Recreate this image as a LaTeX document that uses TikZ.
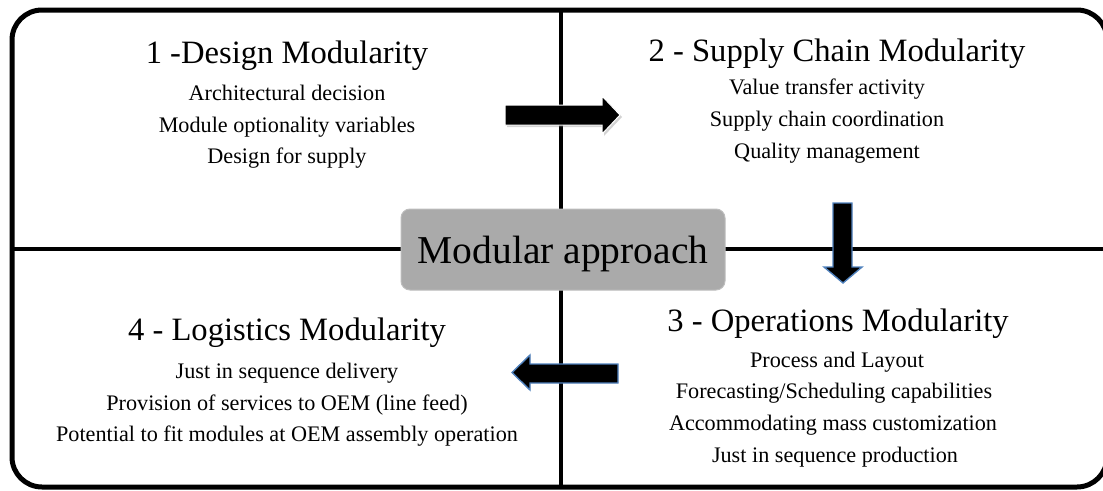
\documentclass[tikz,border=0pt]{standalone}
\usepackage{fontspec}
\setmainfont{Liberation Serif}
\usetikzlibrary{shadows}
\definecolor{boxgray}{HTML}{AAAAAA}
\definecolor{boxedge}{HTML}{BDBDBD}
\definecolor{arrblue}{HTML}{4F81BD}
\begin{document}
\begin{tikzpicture}[x=1pt,y=-1pt,
  title/.style={anchor=base,inner sep=0pt,font=\fontsize{32.6}{38}\selectfont},
  item/.style={anchor=base,inner sep=0pt,font=\fontsize{22.2}{26}\selectfont},
  divider/.style={line width=4pt},
  blockarrow/.style={fill=black,draw=arrblue,line width=1.4pt,line join=miter}]
\useasboundingbox (0,0) rectangle (1103,490);
\clip (0,0) rectangle (1103,490);
% outer frame
\draw[line width=5pt,rounded corners=30pt] (12,10) rectangle (1107,487);
% dividers
\coordinate (vtop) at (561,10);
\coordinate (vbot) at (561,487);
\coordinate (hleft) at (12,249);
\coordinate (hright) at (1107,249);
\draw[divider] (vtop) -- (vbot);
\draw[divider] (hleft) -- (hright);
% centre box
\node[fill=boxgray,draw=boxedge,line width=1pt,rounded corners=9pt,
  minimum width=324pt,minimum height=81pt,inner sep=0pt] (centre) at (563,249.5) {};
\node[anchor=base,inner sep=0pt,font=\fontsize{39.5}{46}\selectfont] (ctext) at (563,263) {Modular approach};
% quadrant 1
\node[title] (t1) at (287,63) {1 -Design Modularity};
\node[item] (a1) at (287,100) {Architectural decision};
\node[item] (a2) at (287,132) {Module optionality variables};
\node[item] (a3) at (287,163) {Design for supply};
% quadrant 2
\node[title] (t2) at (837,61) {2 - Supply Chain Modularity};
\node[item] (b1) at (827,94) {Value transfer activity};
\node[item] (b2) at (827,126) {Supply chain coordination};
\node[item] (b3) at (827,158) {Quality management};
% quadrant 3
\node[title] (t3) at (838,331) {3 - Operations Modularity};
\node[item] (c1) at (837,367) {Process and Layout};
\node[item] (c2) at (834,398) {Forecasting/Scheduling capabilities};
\node[item] (c3) at (833,430) {Accommodating mass customization};
\node[item] (c4) at (835,462) {Just in sequence production};
% quadrant 4
\node[title] (t4) at (287,340) {4 - Logistics Modularity};
\node[item] (d1) at (287,378) {Just in sequence delivery};
\node[item] (d2) at (287,410) {Provision of services to OEM (line feed)};
\node[item] (d3) at (287,441) {Potential to fit modules at OEM assembly operation};
% block arrows
\fill[black,draw=white,line width=1pt,line join=miter,
  drop shadow={shadow xshift=2pt,shadow yshift=-2pt,opacity=0.35,fill=gray}]
  (505,105) -- (602,105) -- (602,96) -- (620,115) -- (602,134) -- (602,125) -- (505,125) -- cycle;
\draw[blockarrow] (833,203) -- (852,203) -- (852,267) -- (862,267) -- (843,283) -- (824,267) -- (833,267) -- cycle;
\draw[blockarrow] (618,364) -- (618,383) -- (530,383) -- (530,390) -- (512,372.5) -- (530,355) -- (530,364) -- cycle;
\end{tikzpicture}
\end{document}
